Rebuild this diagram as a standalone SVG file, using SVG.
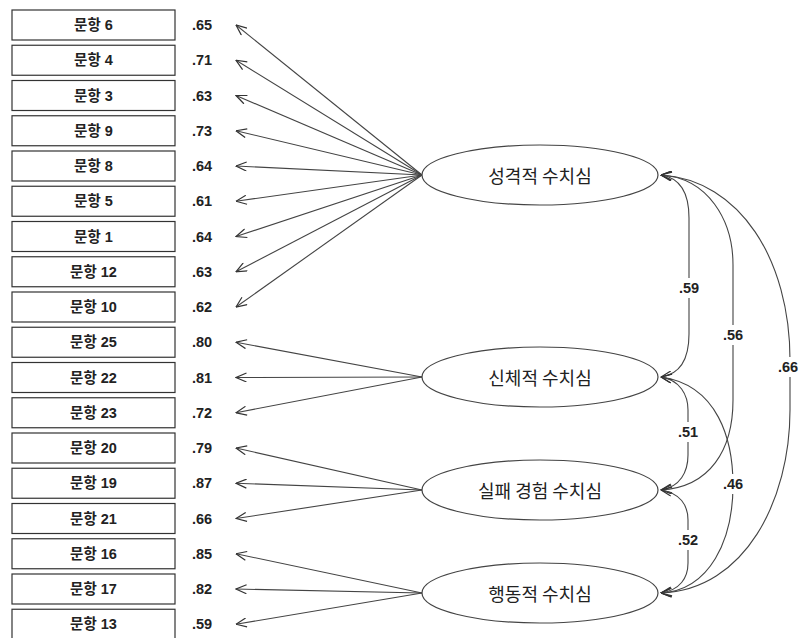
<svg xmlns="http://www.w3.org/2000/svg" width="799" height="638" viewBox="0 0 799 638">
<defs>
<marker id="ah" viewBox="0 0 12 10" refX="11.5" refY="5" markerWidth="12" markerHeight="10" markerUnits="userSpaceOnUse" orient="auto-start-reverse">
<path d="M1,0.5 L11.5,5 L1,9.5" fill="none" stroke="#333" stroke-width="1.2"/>
</marker>
<style>
.box{fill:#fff;stroke:#333;stroke-width:1.2}
.bl{font-family:"Liberation Sans","Noto Sans CJK KR",sans-serif;font-size:14.5px;font-weight:bold;fill:#222;text-anchor:middle;dominant-baseline:central}
.val{font-family:"Liberation Sans",sans-serif;font-size:14.5px;font-weight:bold;fill:#222;dominant-baseline:central}
.ell{fill:#fff;stroke:#444;stroke-width:1.2}
.el{font-family:"Noto Sans CJK KR",sans-serif;font-size:18px;fill:#222;text-anchor:middle;dominant-baseline:central}
.ln{fill:none;stroke:#444;stroke-width:1.1;marker-end:url(#ah)}
.cv{fill:none;stroke:#444;stroke-width:1.1;marker-start:url(#ah);marker-end:url(#ah)}
.cl{font-family:"Liberation Sans",sans-serif;font-size:14.5px;font-weight:bold;fill:#222;text-anchor:middle;dominant-baseline:central}
.bg{fill:#fff}
</style>
</defs>
<rect width="799" height="638" fill="#fff"/>
<g id="connectors">
<line class="ln" x1="422" y1="175" x2="236" y2="25"/>
<line class="ln" x1="422" y1="175" x2="236" y2="60.25"/>
<line class="ln" x1="422" y1="175" x2="236" y2="95.5"/>
<line class="ln" x1="422" y1="175" x2="236" y2="130.75"/>
<line class="ln" x1="422" y1="175" x2="236" y2="166"/>
<line class="ln" x1="422" y1="175" x2="236" y2="201.25"/>
<line class="ln" x1="422" y1="175" x2="236" y2="236.5"/>
<line class="ln" x1="422" y1="175" x2="236" y2="271.75"/>
<line class="ln" x1="422" y1="175" x2="236" y2="307"/>
<line class="ln" x1="422" y1="377" x2="236" y2="342.25"/>
<line class="ln" x1="422" y1="377" x2="236" y2="377.5"/>
<line class="ln" x1="422" y1="377" x2="236" y2="412.75"/>
<line class="ln" x1="422" y1="490" x2="236" y2="448"/>
<line class="ln" x1="422" y1="490" x2="236" y2="483.25"/>
<line class="ln" x1="422" y1="490" x2="236" y2="518.5"/>
<line class="ln" x1="422" y1="593" x2="236" y2="553.75"/>
<line class="ln" x1="422" y1="593" x2="236" y2="589"/>
<line class="ln" x1="422" y1="593" x2="236" y2="624.25"/>
<path class="cv" d="M661,175 C681,178 689,195 689,218 L689,334 C689,357 681,374 661,377"/>
<path class="cv" d="M661,175 C708,178 733,220 733,265 L733,400 C733,450 710,487 661,490"/>
<path class="cv" d="M661,175 C740,180 790,260 790,360 L790,410 C790,500 745,590 661,593"/>
<path class="cv" d="M661,377 C680,380 688,395 688,410 L688,455 C688,472 680,487 661,490"/>
<path class="cv" d="M661,377 C718,385 733,440 733,485 C733,540 710,590 661,593"/>
<path class="cv" d="M661,490 C680,493 688,505 688,520 L688,563 C688,578 680,590 661,593"/>
<rect class="bg" x="673" y="278" width="32" height="20"/>
<text class="cl" x="689" y="288">.59</text>
<rect class="bg" x="717" y="325" width="32" height="20"/>
<text class="cl" x="733" y="335">.56</text>
<rect class="bg" x="774" y="357" width="32" height="20"/>
<text class="cl" x="788" y="367">.66</text>
<rect class="bg" x="672" y="422" width="32" height="20"/>
<text class="cl" x="688" y="432">.51</text>
<rect class="bg" x="717" y="474" width="32" height="20"/>
<text class="cl" x="733" y="484">.46</text>
<rect class="bg" x="672" y="530" width="32" height="20"/>
<text class="cl" x="688" y="540">.52</text>
</g>
<g id="item6"><rect class="box" x="12" y="10" width="163" height="30"/><text class="bl" x="93.5" y="25">문항 6</text><text class="val" x="192" y="25">.65</text></g>
<g id="item4"><rect class="box" x="12" y="45.25" width="163" height="30"/><text class="bl" x="93.5" y="60.25">문항 4</text><text class="val" x="192" y="60.25">.71</text></g>
<g id="item3"><rect class="box" x="12" y="80.5" width="163" height="30"/><text class="bl" x="93.5" y="95.5">문항 3</text><text class="val" x="192" y="95.5">.63</text></g>
<g id="item9"><rect class="box" x="12" y="115.75" width="163" height="30"/><text class="bl" x="93.5" y="130.75">문항 9</text><text class="val" x="192" y="130.75">.73</text></g>
<g id="item8"><rect class="box" x="12" y="151" width="163" height="30"/><text class="bl" x="93.5" y="166">문항 8</text><text class="val" x="192" y="166">.64</text></g>
<g id="item5"><rect class="box" x="12" y="186.25" width="163" height="30"/><text class="bl" x="93.5" y="201.25">문항 5</text><text class="val" x="192" y="201.25">.61</text></g>
<g id="item1"><rect class="box" x="12" y="221.5" width="163" height="30"/><text class="bl" x="93.5" y="236.5">문항 1</text><text class="val" x="192" y="236.5">.64</text></g>
<g id="item12"><rect class="box" x="12" y="256.75" width="163" height="30"/><text class="bl" x="93.5" y="271.75">문항 12</text><text class="val" x="192" y="271.75">.63</text></g>
<g id="item10"><rect class="box" x="12" y="292" width="163" height="30"/><text class="bl" x="93.5" y="307">문항 10</text><text class="val" x="192" y="307">.62</text></g>
<g id="item25"><rect class="box" x="12" y="327.25" width="163" height="30"/><text class="bl" x="93.5" y="342.25">문항 25</text><text class="val" x="192" y="342.25">.80</text></g>
<g id="item22"><rect class="box" x="12" y="362.5" width="163" height="30"/><text class="bl" x="93.5" y="377.5">문항 22</text><text class="val" x="192" y="377.5">.81</text></g>
<g id="item23"><rect class="box" x="12" y="397.75" width="163" height="30"/><text class="bl" x="93.5" y="412.75">문항 23</text><text class="val" x="192" y="412.75">.72</text></g>
<g id="item20"><rect class="box" x="12" y="433" width="163" height="30"/><text class="bl" x="93.5" y="448">문항 20</text><text class="val" x="192" y="448">.79</text></g>
<g id="item19"><rect class="box" x="12" y="468.25" width="163" height="30"/><text class="bl" x="93.5" y="483.25">문항 19</text><text class="val" x="192" y="483.25">.87</text></g>
<g id="item21"><rect class="box" x="12" y="503.5" width="163" height="30"/><text class="bl" x="93.5" y="518.5">문항 21</text><text class="val" x="192" y="518.5">.66</text></g>
<g id="item16"><rect class="box" x="12" y="538.75" width="163" height="30"/><text class="bl" x="93.5" y="553.75">문항 16</text><text class="val" x="192" y="553.75">.85</text></g>
<g id="item17"><rect class="box" x="12" y="574" width="163" height="30"/><text class="bl" x="93.5" y="589">문항 17</text><text class="val" x="192" y="589">.82</text></g>
<g id="item13"><rect class="box" x="12" y="609.25" width="163" height="30"/><text class="bl" x="93.5" y="624.25">문항 13</text><text class="val" x="192" y="624.25">.59</text></g>
<g id="f_personality"><ellipse class="ell" cx="540" cy="175" rx="118" ry="30"/><text class="el" x="540" y="175">성격적 수치심</text></g>
<g id="f_body"><ellipse class="ell" cx="540" cy="377" rx="118" ry="30"/><text class="el" x="540" y="377">신체적 수치심</text></g>
<g id="f_failure"><ellipse class="ell" cx="540" cy="490" rx="118" ry="30"/><text class="el" x="540" y="490">실패 경험 수치심</text></g>
<g id="f_behavior"><ellipse class="ell" cx="540" cy="593" rx="118" ry="30"/><text class="el" x="540" y="593">행동적 수치심</text></g>
</svg>
